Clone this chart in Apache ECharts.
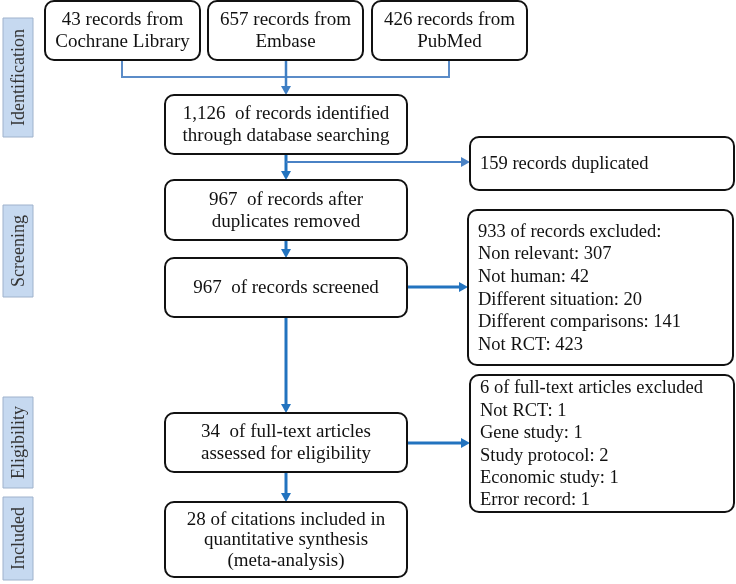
<!DOCTYPE html>
<html>
<head>
<meta charset="utf-8">
<style>
  html, body { margin: 0; padding: 0; background: #fff; }
  #main { width: 736px; height: 584px; }
</style>
<script src="https://cdn.jsdelivr.net/npm/echarts@6/dist/echarts.min.js"></script>
</head>
<body>
<div id="main"></div>
<script>
    // 数据
    const sourceNames = ['Cochrane Library', 'Embase', 'PubMed'];
    const sourceCounts = [43, 657, 426];
    const stageNames = ['Identification', 'Screening', 'Eligibility', 'Included'];
    const identifiedCount = 1126;
    const duplicateCount = 159;
    const afterDuplicateCount = 967;
    const screenedCount = 967;
    const screenExcludedCount = 933;
    const screenReasons = ['Non relevant', 'Not human', 'Different situation', 'Different comparisons', 'Not RCT'];
    const screenReasonCounts = [307, 42, 20, 141, 423];
    const fullTextCount = 34;
    const fullTextExcludedCount = 6;
    const fullTextReasons = ['Not RCT', 'Gene study', 'Study protocol', 'Economic study', 'Error record'];
    const fullTextReasonCounts = [1, 1, 2, 1, 1];
    const includedCount = 28;

    const fmt = n => n.toLocaleString('en-US');

    const boxTexts = [
        sourceCounts[0] + ' records from\n' + sourceNames[0],
        sourceCounts[1] + ' records from\n' + sourceNames[1],
        sourceCounts[2] + ' records from\n' + sourceNames[2],
        fmt(identifiedCount) + '  of records identified\nthrough database searching',
        duplicateCount + ' records duplicated',
        afterDuplicateCount + '  of records after\nduplicates removed',
        screenedCount + '  of records screened',
        [screenExcludedCount + ' of records excluded:']
            .concat(screenReasons.map((r, i) => r + ': ' + screenReasonCounts[i])).join('\n'),
        fullTextCount + '  of full-text articles\nassessed for eligibility',
        [fullTextExcludedCount + ' of full-text articles excluded']
            .concat(fullTextReasons.map((r, i) => r + ': ' + fullTextReasonCounts[i])).join('\n'),
        includedCount + ' of citations included in\nquantitative synthesis\n(meta-analysis)'
    ];

    // 布局 (x0, y0, x1, y1, 对齐, 行高)
    const boxLayout = [
        [45, 1, 200, 60, 'center', 22],
        [208, 1, 363, 60, 'center', 22],
        [372, 1, 527, 60, 'center', 22],
        [165, 95, 407, 154, 'center', 22],
        [470, 137, 734, 190, 'left', 22],
        [165, 180, 407, 240, 'center', 22],
        [165, 258, 407, 317, 'center', 22],
        [468, 210, 733, 365, 'left', 22.6],
        [165, 413, 407, 472, 'center', 22],
        [470, 375, 734, 512, 'left', 22.4],
        [165, 502, 407, 577, 'center', 20.5]
    ];
    const stageLayout = [
        [3, 18, 33, 137],
        [3, 205, 33, 297],
        [3, 397, 33, 488],
        [3, 497, 33, 580]
    ];
    const connectors = [
        { pts: [[122, 60], [122, 77], [449, 77], [449, 60]], arrow: false, color: '#5b8cc8', width: 2 },
        { pts: [[286, 60], [286, 95]], arrow: true, color: '#3f7fc4', width: 2.5 },
        { pts: [[286, 154], [286, 180]], arrow: true, color: '#2273bf', width: 3 },
        { pts: [[286, 162], [470, 162]], arrow: true, color: '#4a82c5', width: 2 },
        { pts: [[286, 240], [286, 258]], arrow: true, color: '#2273bf', width: 3 },
        { pts: [[407, 287], [468, 287]], arrow: true, color: '#2273bf', width: 3 },
        { pts: [[286, 317], [286, 413]], arrow: true, color: '#2273bf', width: 3 },
        { pts: [[407, 443], [470, 443]], arrow: true, color: '#2273bf', width: 3 },
        { pts: [[286, 472], [286, 502]], arrow: true, color: '#2273bf', width: 3 }
    ];

    const serif = "'Liberation Serif', 'Times New Roman', serif";

    const chart = echarts.init(document.getElementById('main'));
    chart.setOption({
        backgroundColor: '#fff',
        animation: false,
        grid: { left: 0, right: 0, top: 0, bottom: 0 },
        xAxis: { type: 'value', min: 0, max: 736, show: false },
        yAxis: { type: 'value', min: 0, max: 584, inverse: true, show: false },
        series: [{
            // 连接线和箭头
            type: 'custom',
            clip: false,
            encode: { x: 0, y: 1 },
            data: connectors.map((c, i) => [c.pts[0][0], c.pts[0][1], i]),
            renderItem: function (params, api) {
                const c = connectors[api.value(2)];
                const pts = c.pts.map(p => api.coord(p));
                const children = [];
                if (c.arrow) {
                    const n = pts.length;
                    const a = pts[n - 2], b = pts[n - 1];
                    const dx = b[0] - a[0], dy = b[1] - a[1];
                    const len = Math.sqrt(dx * dx + dy * dy);
                    const ux = dx / len, uy = dy / len;
                    const hl = 9, hw = 5;
                    const base = [b[0] - ux * hl, b[1] - uy * hl];
                    pts[n - 1] = [base[0] + ux * 1, base[1] + uy * 1];
                    children.push({
                        type: 'polygon',
                        shape: { points: [b, [base[0] - uy * hw, base[1] + ux * hw], [base[0] + uy * hw, base[1] - ux * hw]] },
                        style: { fill: c.color }
                    });
                }
                children.unshift({
                    type: 'polyline',
                    shape: { points: pts },
                    style: { stroke: c.color, lineWidth: c.width, fill: null, lineJoin: 'miter' }
                });
                return { type: 'group', children: children };
            }
        }, {
            // 流程框
            type: 'custom',
            clip: false,
            encode: { x: 0, y: 1 },
            data: boxLayout.map((b, i) => [b[0], b[1], i]),
            renderItem: function (params, api) {
                const i = api.value(2);
                const b = boxLayout[i];
                const p0 = api.coord([b[0], b[1]]);
                const p1 = api.coord([b[2], b[3]]);
                const left = b[4] === 'left';
                return {
                    type: 'group',
                    children: [{
                        type: 'rect',
                        shape: { x: p0[0], y: p0[1], width: p1[0] - p0[0], height: p1[1] - p0[1], r: 9 },
                        style: { fill: '#fff', stroke: '#111', lineWidth: 2 }
                    }, {
                        type: 'text',
                        x: left ? p0[0] + 10 : (p0[0] + p1[0]) / 2,
                        y: (p0[1] + p1[1]) / 2 + 1,
                        style: {
                            text: boxTexts[i],
                            font: (left ? '18.5px ' : '19px ') + serif,
                            fill: '#111',
                            align: left ? 'left' : 'center',
                            verticalAlign: 'middle',
                            lineHeight: b[5]
                        }
                    }]
                };
            }
        }, {
            // 阶段标签
            type: 'custom',
            clip: false,
            encode: { x: 0, y: 1 },
            data: stageLayout.map((s, i) => [s[0], s[1], i]),
            renderItem: function (params, api) {
                const i = api.value(2);
                const s = stageLayout[i];
                const p0 = api.coord([s[0], s[1]]);
                const p1 = api.coord([s[2], s[3]]);
                return {
                    type: 'group',
                    children: [{
                        type: 'rect',
                        shape: { x: p0[0], y: p0[1], width: p1[0] - p0[0], height: p1[1] - p0[1] },
                        style: { fill: '#c6d9f0', stroke: '#9fb2cc', lineWidth: 1 }
                    }, {
                        type: 'text',
                        x: (p0[0] + p1[0]) / 2 + 1,
                        y: (p0[1] + p1[1]) / 2,
                        rotation: Math.PI / 2,
                        style: {
                            text: stageNames[i],
                            font: '18px ' + serif,
                            fill: '#333',
                            align: 'center',
                            verticalAlign: 'middle'
                        }
                    }]
                };
            }
        }]
    });
</script>
</body>
</html>
